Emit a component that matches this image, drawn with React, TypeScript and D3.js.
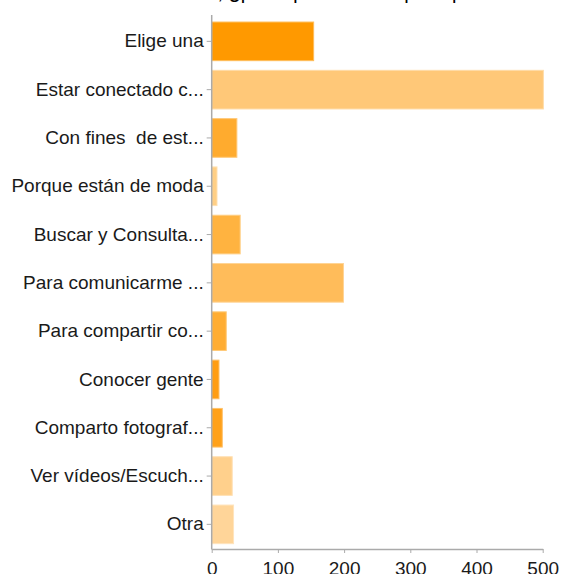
import * as React from 'react';
import * as d3 from 'd3';

// answers (truncated like the original labels) and response counts
const categories = [
    'Elige una',
    'Estar conectado c...',
    'Con fines  de est...',
    'Porque están de moda',
    'Buscar y Consulta...',
    'Para comunicarme ...',
    'Para compartir co...',
    'Conocer gente',
    'Comparto fotograf...',
    'Ver vídeos/Escuch...',
    'Otra',
];
const counts = [154, 501, 38, 8, 43, 199, 22, 11, 16, 31, 33];
const xTicks = [0, 100, 200, 300, 400, 500];
const barColors = [
    '#ff9900', '#ffc878', '#ffab2e', '#ffcf85', '#ffb340', '#ffbc5a',
    '#ffad33', '#ff9d12', '#ffa11a', '#ffd08c', '#ffd599',
];
const title = 'Si usas redes sociales, ¿para qué las usas principalmente?';

export default function App() {
    const ref = React.useRef<SVGSVGElement>(null);

    React.useEffect(() => {
        const w = 564;
        const h = 574;
        const left = 211.7;
        const right = 542.7;
        const top = 17.2;
        const bottom = 548.5;
        const font = '"Liberation Sans", Arial, Helvetica, sans-serif';

        const svg = d3.select(ref.current);
        svg.selectAll('*').remove();
        svg.attr('width', w).attr('height', h);

        const x = d3.scaleLinear().domain([0, 500]).range([left, right]);
        const y = d3.scaleBand<string>()
            .domain(categories)
            .range([top, bottom])
            .paddingInner(0.2)
            .paddingOuter(0.1);

        // title, mostly cut off by the top edge
        svg.append('text')
            .attr('x', w / 2)
            .attr('y', -1)
            .attr('text-anchor', 'middle')
            .attr('font-family', font)
            .attr('font-size', 20)
            .attr('fill', '#000')
            .text(title);

        // bars
        svg.append('g')
            .selectAll('rect')
            .data(categories)
            .join('rect')
                .attr('x', x(0))
                .attr('y', d => y(d)!)
                .attr('width', (d, i) => x(counts[i]) - x(0))
                .attr('height', y.bandwidth())
                .attr('fill', (d, i) => barColors[i])
                .attr('stroke', (d, i) => d3.interpolateRgb(barColors[i], '#ffffff')(0.35))
                .attr('stroke-width', 1);

        const axisColor = '#aaaaaa';

        // y axis
        const yAxis = svg.append('g')
            .attr('transform', `translate(${left}, 0)`)
            .call(d3.axisLeft(y).tickSize(5).tickPadding(3));
        yAxis.select('.domain').remove();
        yAxis.append('line')
            .attr('x1', 0).attr('x2', 0)
            .attr('y1', 15).attr('y2', bottom + 1)
            .attr('stroke', axisColor)
            .attr('stroke-width', 1.5);
        yAxis.selectAll('.tick line').attr('stroke', axisColor);
        yAxis.selectAll('.tick text')
            .attr('font-family', font)
            .attr('font-size', 19)
            .attr('fill', '#1a1a1a')
            .style('white-space', 'pre');

        // x axis
        const xAxis = svg.append('g')
            .attr('transform', `translate(0, ${bottom + 0.5})`)
            .call(d3.axisBottom(x).tickValues(xTicks).tickSize(4).tickPadding(9).tickSizeOuter(0));
        xAxis.select('.domain').attr('stroke', axisColor).attr('stroke-width', 1.5);
        xAxis.selectAll('.tick line').attr('stroke', axisColor);
        xAxis.selectAll('.tick text')
            .attr('font-family', font)
            .attr('font-size', 19)
            .attr('fill', '#1a1a1a');
    }, []);

    return (
        <svg ref={ref} style={{ position: 'absolute', left: 0, top: 0, background: '#fff' }} />
    );
}
